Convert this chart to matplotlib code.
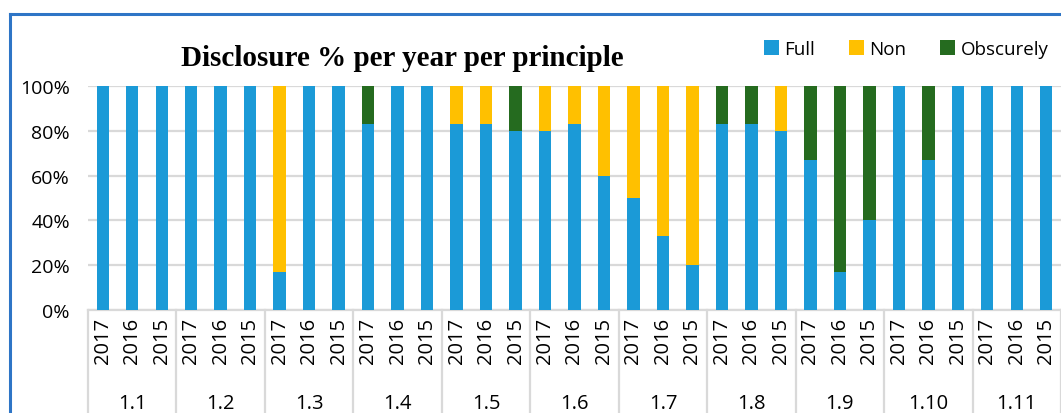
import numpy as np
import matplotlib.pyplot as plt
from matplotlib.lines import Line2D

principles = ['1.1', '1.2', '1.3', '1.4', '1.5', '1.6', '1.7', '1.8', '1.9', '1.10', '1.11']
years = ['2017', '2016', '2015']

# percentages per bar, ordered principle by principle, 2017/2016/2015
full = [100, 100, 100,  100, 100, 100,  17, 100, 100,  83, 100, 100,
        83, 83, 80,  80, 83, 60,  50, 33, 20,  83, 83, 80,
        67, 17, 40,  100, 67, 100,  100, 100, 100]
non = [0, 0, 0,  0, 0, 0,  83, 0, 0,  0, 0, 0,
       17, 17, 0,  20, 17, 40,  50, 67, 80,  0, 0, 20,
       0, 0, 0,  0, 0, 0,  0, 0, 0]
obscurely = [0, 0, 0,  0, 0, 0,  0, 0, 0,  17, 0, 0,
             0, 0, 20,  0, 0, 0,  0, 0, 0,  17, 17, 0,
             33, 83, 60,  0, 33, 0,  0, 0, 0]

c_full = '#1B9AD7'
c_non = '#FFC000'
c_obs = '#256B1F'

fig = plt.figure(figsize=(10.61, 4.14), dpi=100)
ax = fig.add_axes([88 / 1061, 1 - 311 / 414, 973 / 1061, 224 / 414])

x = np.arange(len(full))
full = np.array(full)
non = np.array(non)
obscurely = np.array(obscurely)
w = 0.42
ax.bar(x, full, w, color=c_full, label='Full', zorder=3)
ax.bar(x, non, w, bottom=full, color=c_non, label='Non', zorder=3)
ax.bar(x, obscurely, w, bottom=full + non, color=c_obs, label='Obscurely', zorder=3)

ax.set_xlim(-0.5, len(full) - 0.5)
ax.set_ylim(0, 100)
ax.set_yticks(range(0, 101, 20))
ax.set_yticklabels([f'{v}%' for v in range(0, 101, 20)], fontsize=14, family='Open Sans')
ax.yaxis.grid(True, color='#D9D9D9', linewidth=1.6, zorder=0)
ax.tick_params(axis='y', length=0, pad=13)
for s in ['left', 'right', 'top']:
    ax.spines[s].set_visible(False)
ax.spines['bottom'].set_color('#D9D9D9')
ax.spines['bottom'].set_linewidth(1.6)

ax.set_xticks(x)
ax.set_xticklabels(years * len(principles), rotation=90, fontsize=14.5, family='Open Sans')
ax.tick_params(axis='x', length=0, pad=5)

# group separators and principle labels (the chart is cropped at the bottom)
tr = ax.get_xaxis_transform()
for k in range(len(principles) + 1):
    ax.plot([3 * k - 0.5, 3 * k - 0.5], [0, -0.5], color='#D9D9D9', lw=1.6,
            transform=tr, clip_on=False)
for k, p in enumerate(principles):
    ax.text(3 * k + 1, -0.415, p, transform=tr, ha='center', va='center',
            fontsize=14.5, family='Open Sans')

fig.text(402 / 1061, 1 - 58 / 414, 'Disclosure % per year per principle', ha='center', va='center',
         fontsize=21, fontweight='bold', family='Liberation Serif')

ax.legend(loc='center right', bbox_to_anchor=(1056 / 1061, 1 - 50 / 414),
          bbox_transform=fig.transFigure, ncol=3, frameon=False,
          prop={'family': 'Open Sans', 'size': 13.5}, handlelength=0.8, handleheight=0.8,
          handletextpad=0.3, columnspacing=1.8, borderaxespad=0)

# outer chart frame (cut off at right and bottom)
fig.add_artist(Line2D([10 / 1061, 10 / 1061], [0, 1 - 15 / 414], color='#2E75C6', lw=2.2))
fig.add_artist(Line2D([10 / 1061, 1], [1 - 15 / 414, 1 - 15 / 414], color='#2E75C6', lw=2.2))

fig.savefig('out.png', dpi=100)
